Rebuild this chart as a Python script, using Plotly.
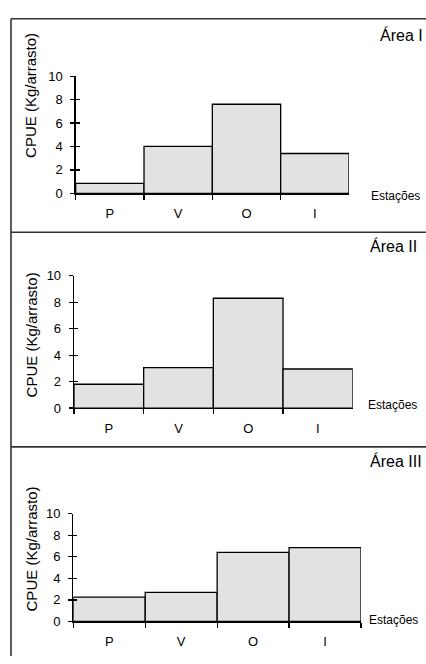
import plotly.graph_objects as go

categories = ["P", "V", "O", "I"]
area1 = [0.85, 4.0, 7.6, 3.4]
area2 = [1.8, 3.05, 8.3, 2.95]
area3 = [2.25, 2.7, 6.4, 6.85]
area_labels = ["Área I", "Área II", "Área III"]
y_title = "CPUE (Kg/arrasto)"
x_title = "Estações"
y_ticks = [0, 2, 4, 6, 8, 10]

W, H = 426, 664
FONT = "Liberation Sans, Arial, sans-serif"

def px(x):
    return x / W

def py(y):
    return 1 - y / H

# panel geometry (pixels): x0, x1, y at 0, y at 10, area label pos, estações pos, y title center
panels = [
    dict(x0=75.7, x1=349.0, yb=190.7, yt=70.7, area=(378, 29), est=(369, 193), yt_c=(31, 91)),
    dict(x0=74.0, x1=352.7, yb=410.3, yt=275.0, area=(368, 245), est=(366, 407), yt_c=(31, 336)),
    dict(x0=73.3, x1=361.0, yb=628.7, yt=518.3, area=(368, 465), est=(367, 627), yt_c=(31, 555)),
]
series = [area1, area2, area3]

fig = go.Figure()
annotations = []
shapes = []
layout = {}

for i, (p, vals) in enumerate(zip(panels, series)):
    n = i + 1
    xa = "x" if n == 1 else f"x{n}"
    ya = "y" if n == 1 else f"y{n}"
    fig.add_trace(go.Bar(
        x=categories, y=vals, xaxis=xa, yaxis=ya,
        marker=dict(color="#e2e2e2", line=dict(color="black", width=1.3)),
        showlegend=False, hoverinfo="skip",
    ))
    ov = 3 + n
    fig.add_trace(go.Scatter(x=[categories[0]], y=[0], xaxis=xa, yaxis=f"y{ov}",
                             mode="markers", marker=dict(opacity=0), showlegend=False,
                             hoverinfo="skip"))
    xdom = [px(p["x0"]), px(p["x1"])]
    ydom = [py(p["yb"]), py(p["yt"])]
    layout[f"xaxis{'' if n == 1 else n}"] = dict(
        domain=xdom, anchor=ya, type="category", range=[-0.5, 3.5],
        tickson="boundaries", ticks="outside", ticklen=5, tickcolor="black", tickwidth=1.2,
        showline=True, linecolor="black", linewidth=1.4, showgrid=False, zeroline=False,
        tickfont=dict(family=FONT, size=13, color="black"), ticklabelstandoff=8,
        fixedrange=True,
    )
    layout[f"yaxis{'' if n == 1 else n}"] = dict(
        domain=ydom, anchor=xa, range=[0, 10], tickvals=y_ticks,
        ticks="outside", ticklen=4, tickcolor="black", tickwidth=1.2,
        showline=True, linecolor="black", linewidth=1.3, showgrid=False, zeroline=False,
        tickfont=dict(family=FONT, size=13, color="black"), ticklabelstandoff=5,
        fixedrange=True,
    )
    layout[f"yaxis{ov}"] = dict(
        overlaying=ya, anchor=xa, side="left", range=[0, 10], tickvals=y_ticks,
        ticks="inside", ticklen=4, tickcolor="black", tickwidth=1.2,
        showticklabels=False, showline=False, showgrid=False, zeroline=False,
        fixedrange=True,
    )
    annotations.append(dict(
        x=px(p["area"][0]), y=py(p["area"][1]), xref="paper", yref="paper",
        xanchor="left", yanchor="middle", text=area_labels[i], showarrow=False,
        font=dict(family=FONT, size=16, color="black"),
    ))
    annotations.append(dict(
        x=px(p["est"][0]), y=py(p["est"][1]), xref="paper", yref="paper",
        xanchor="left", yanchor="middle", text=x_title, showarrow=False,
        font=dict(family=FONT, size=12, color="black"),
    ))
    annotations.append(dict(
        x=px(p["yt_c"][0]), y=py(p["yt_c"][1]), xref="paper", yref="paper",
        xanchor="center", yanchor="middle", text=y_title, showarrow=False,
        textangle=-90, font=dict(family=FONT, size=15, color="black"),
    ))

border = dict(color="#333333", width=1.6)
shapes.append(dict(type="line", xref="paper", yref="paper", x0=px(11), x1=1.0, y0=py(12), y1=py(12), line=border))
shapes.append(dict(type="line", xref="paper", yref="paper", x0=px(11), x1=1.0, y0=py(230.5), y1=py(230.5), line=border))
shapes.append(dict(type="line", xref="paper", yref="paper", x0=px(11), x1=1.0, y0=py(450), y1=py(450), line=border))
shapes.append(dict(type="line", xref="paper", yref="paper", x0=px(11), x1=px(11), y0=py(12), y1=0.0, line=border))

fig.update_layout(
    width=W, height=H, margin=dict(l=0, r=0, t=0, b=0),
    paper_bgcolor="white", plot_bgcolor="rgba(0,0,0,0)",
    bargap=0, annotations=annotations, shapes=shapes,
    font=dict(family=FONT, color="black"),
    **layout,
)

fig.write_html(
    "out.html",
    config={"displayModeBar": False, "staticPlot": True},
    post_script="document.body.style.margin='0';document.body.style.overflow='hidden';",
)
